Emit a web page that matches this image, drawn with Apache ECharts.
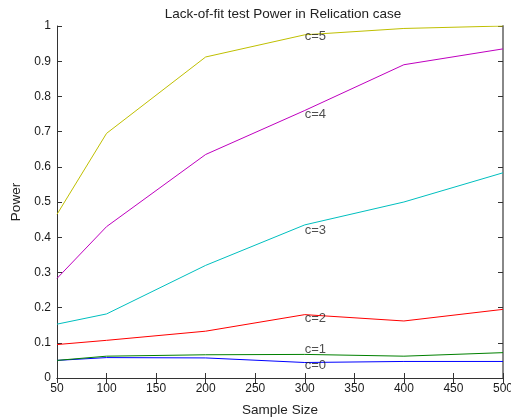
<!DOCTYPE html>
<html>
<head>
<meta charset="utf-8">
<script src="https://cdn.jsdelivr.net/npm/echarts@6/dist/echarts.min.js"></script>
<style>
html,body{margin:0;padding:0;background:#fff;}
#chart{width:511px;height:420px;}
</style>
</head>
<body>
<div id="chart"></div>
<script>
// sample sizes
var sampleSize = [50, 100, 200, 300, 400, 500];

// power curves
var powerC0 = [0.050, 0.058, 0.057, 0.044, 0.047, 0.047];
var powerC1 = [0.050, 0.062, 0.066, 0.067, 0.062, 0.072];
var powerC2 = [0.095, 0.107, 0.133, 0.180, 0.162, 0.195];
var powerC3 = [0.153, 0.182, 0.320, 0.435, 0.500, 0.583];
var powerC4 = [0.283, 0.430, 0.635, 0.760, 0.890, 0.935];
var powerC5 = [0.465, 0.695, 0.912, 0.975, 0.993, 1.000];

var curveNames = ['c=0', 'c=1', 'c=2', 'c=3', 'c=4', 'c=5'];
var curveColors = ['#0000ff', '#008000', '#ff0000', '#00bfbf', '#bf00bf', '#bfbf00'];

// text labels placed at x=300
var labelX = 300;
var labelY = [0.037, 0.080, 0.170, 0.420, 0.750, 0.970];

var curves = [powerC0, powerC1, powerC2, powerC3, powerC4, powerC5];

var fontFam = 'Liberation Sans, Arial, sans-serif';

var series = [];
curves.forEach(function (vals, i) {
    series.push({
        name: curveNames[i],
        type: 'line',
        showSymbol: false,
        symbol: 'none',
        silent: true,
        z: 3,
        lineStyle: {color: curveColors[i], width: 1},
        data: sampleSize.map(function (x, k) { return [x, vals[k]]; })
    });
});

series.push({
    type: 'scatter',
    symbolSize: 0,
    silent: true,
    z: 5,
    label: {
        show: true,
        position: 'right',
        distance: 0,
        fontFamily: fontFam,
        fontSize: 13,
        color: '#222',
        formatter: function (p) { return curveNames[p.dataIndex]; }
    },
    data: labelY.map(function (y) { return [labelX, y]; })
});

var axisLineStyle = {show: true, lineStyle: {color: '#333', width: 1}};
var tickStyle = {show: true, inside: true, length: 5, lineStyle: {color: '#333'}};

var option = {
    animation: false,
    backgroundColor: '#fff',
    title: {
        text: 'Lack-of-fit test Power in Relication case',
        left: 278,
        textAlign: 'center',
        top: 2,
        textStyle: {fontFamily: fontFam, fontSize: 13.5, fontWeight: 'normal', color: '#222'}
    },
    grid: {left: 57, right: 8, top: 26, bottom: 42, outerBoundsMode: 'none', containLabel: false},
    xAxis: [{
        type: 'value',
        min: 50, max: 500, interval: 50,
        name: 'Sample Size',
        nameLocation: 'middle',
        nameGap: 25,
        nameTextStyle: {fontFamily: fontFam, fontSize: 13.5, color: '#222'},
        axisLine: axisLineStyle,
        axisTick: tickStyle,
        splitLine: {show: false},
        axisLabel: {fontFamily: fontFam, fontSize: 12, color: '#1a1a1a', margin: 5}
    }, {
        type: 'value',
        position: 'top',
        min: 50, max: 500, interval: 50,
        axisLine: axisLineStyle,
        axisTick: tickStyle,
        splitLine: {show: false},
        axisLabel: {show: false}
    }],
    yAxis: [{
        type: 'value',
        min: 0, max: 1, interval: 0.1,
        name: 'Power',
        nameLocation: 'middle',
        nameGap: 34,
        nameTextStyle: {fontFamily: fontFam, fontSize: 13.5, color: '#222'},
        axisLine: axisLineStyle,
        axisTick: tickStyle,
        splitLine: {show: false},
        axisLabel: {fontFamily: fontFam, fontSize: 12, color: '#1a1a1a', margin: 6}
    }, {
        type: 'value',
        position: 'right',
        min: 0, max: 1, interval: 0.1,
        axisLine: {show: true, lineStyle: {color: '#888', width: 2}},
        axisTick: tickStyle,
        splitLine: {show: false},
        axisLabel: {show: false}
    }],
    series: series
};

var chart = echarts.init(document.getElementById('chart'));
chart.setOption(option);
</script>
</body>
</html>
